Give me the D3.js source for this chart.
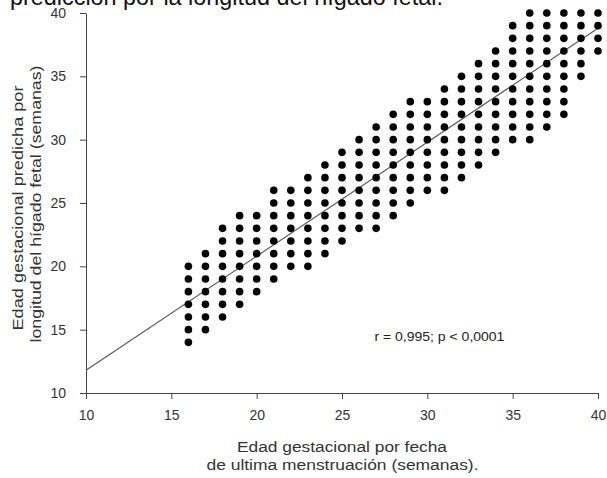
<!DOCTYPE html>
<html>
<head>
<meta charset="utf-8">
<script src="https://d3js.org/d3.v7.min.js"></script>
<style>
  body { margin: 0; background: #fff; }
  text { font-family: "Liberation Sans", Arial, sans-serif; }
</style>
</head>
<body>
<div id="my_dataviz"></div>
<script>

// weeks by last menstrual period (x) and the range of predicted weeks seen in each column
var weeks = [16,17,18,19,20,21,22,23,24,25,26,27,28,29,30,31,32,33,34,35,36,37,38,39,40]
var predMin = [14,15,16,17,18,19,20,20,21,22,23,23,24,25,26,26,27,28,29,30,30,31,32,35,37]
var predMax = [20,21,23,24,24,26,26,27,28,29,30,31,32,33,33,34,35,36,37,39,40,40,40,40,40]

// regression line end points
var fitX = [10, 40]
var fitY = [11.8, 38.8]

var xTicks = [10,15,20,25,30,35,40]
var yTicks = [10,15,20,25,30,35,40]

// set the dimensions and margins of the graph
var margin = {top: 13, right: 9, bottom: 85, left: 86},
    width = 607 - margin.left - margin.right,
    height = 478 - margin.top - margin.bottom;

var svgRoot = d3.select("#my_dataviz")
  .append("svg")
    .attr("width", 607)
    .attr("height", 478)

var svg = svgRoot.append("g")
    .attr("transform", "translate(" + margin.left + "," + margin.top + ")");

var x = d3.scaleLinear()
  .domain([10, 40])
  .range([0, width]);

var y = d3.scaleLinear()
  .domain([10, 40])
  .range([height, 0]);

// one point per whole week inside each column
var points = []
weeks.forEach(function(w, i) {
  for (var v = predMin[i]; v <= predMax[i]; v++) {
    points.push({x: w, y: v})
  }
})

// cropped caption above the chart
svgRoot.append("text")
  .attr("x", 10)
  .attr("y", 5)
  .attr("textLength", 433)
  .attr("lengthAdjust", "spacingAndGlyphs")
  .style("font-size", "23px")
  .style("fill", "#111")
  .text("predicción por la longitud del hígado fetal.")

// Add X axis
svg.append("g")
  .attr("transform", "translate(0," + height + ")")
  .call(d3.axisBottom(x).tickValues(xTicks).tickSize(6).tickSizeOuter(0).tickPadding(11))

// Add Y axis
svg.append("g")
  .call(d3.axisLeft(y).tickValues(yTicks).tickSize(6).tickSizeOuter(0).tickPadding(14))

svg.selectAll(".domain, .tick line").attr("stroke", "#444")
svg.selectAll(".tick text")
  .style("font-size", "14px")
  .style("font-family", "'Liberation Sans', Arial, sans-serif")
  .attr("fill", "#333")

// regression line
var line = d3.line()
  .x(function(d) { return x(d[0]) })
  .y(function(d) { return y(d[1]) })

svg.append("path")
  .datum(fitX.map(function(v, i) { return [v, fitY[i]] }))
  .attr("d", line)
  .attr("stroke", "#555")
  .attr("stroke-width", 1.1)
  .attr("fill", "none")

// Add the points
svg.selectAll("myDots")
  .data(points)
  .enter()
  .append("circle")
    .attr("cx", function(d) { return x(d.x) })
    .attr("cy", function(d) { return y(d.y) })
    .attr("r", 3.8)
    .attr("fill", "#000")

// stats note
svg.append("text")
  .attr("x", x(26.9))
  .attr("y", y(14.45))
  .attr("dominant-baseline", "central")
  .attr("textLength", 130)
  .attr("lengthAdjust", "spacingAndGlyphs")
  .style("font-size", "13px")
  .style("fill", "#222")
  .text("r = 0,995; p < 0,0001")

// axis titles
svgRoot.append("text")
  .attr("text-anchor", "middle")
  .attr("x", 342)
  .attr("y", 452)
  .attr("textLength", 210)
  .attr("lengthAdjust", "spacingAndGlyphs")
  .style("font-size", "15.5px")
  .style("fill", "#333")
  .text("Edad gestacional por fecha")

svgRoot.append("text")
  .attr("text-anchor", "middle")
  .attr("x", 342.5)
  .attr("y", 470)
  .attr("textLength", 272)
  .attr("lengthAdjust", "spacingAndGlyphs")
  .style("font-size", "15.5px")
  .style("fill", "#333")
  .text("de ultima menstruación (semanas).")

svgRoot.append("text")
  .attr("text-anchor", "middle")
  .attr("transform", "translate(23,208) rotate(-90)")
  .attr("textLength", 245)
  .attr("lengthAdjust", "spacingAndGlyphs")
  .style("font-size", "15.5px")
  .style("fill", "#333")
  .text("Edad gestacional predicha por")

svgRoot.append("text")
  .attr("text-anchor", "middle")
  .attr("transform", "translate(41,204) rotate(-90)")
  .attr("textLength", 277)
  .attr("lengthAdjust", "spacingAndGlyphs")
  .style("font-size", "15.5px")
  .style("fill", "#333")
  .text("longitud del hígado fetal (semanas)")

</script>
</body>
</html>
